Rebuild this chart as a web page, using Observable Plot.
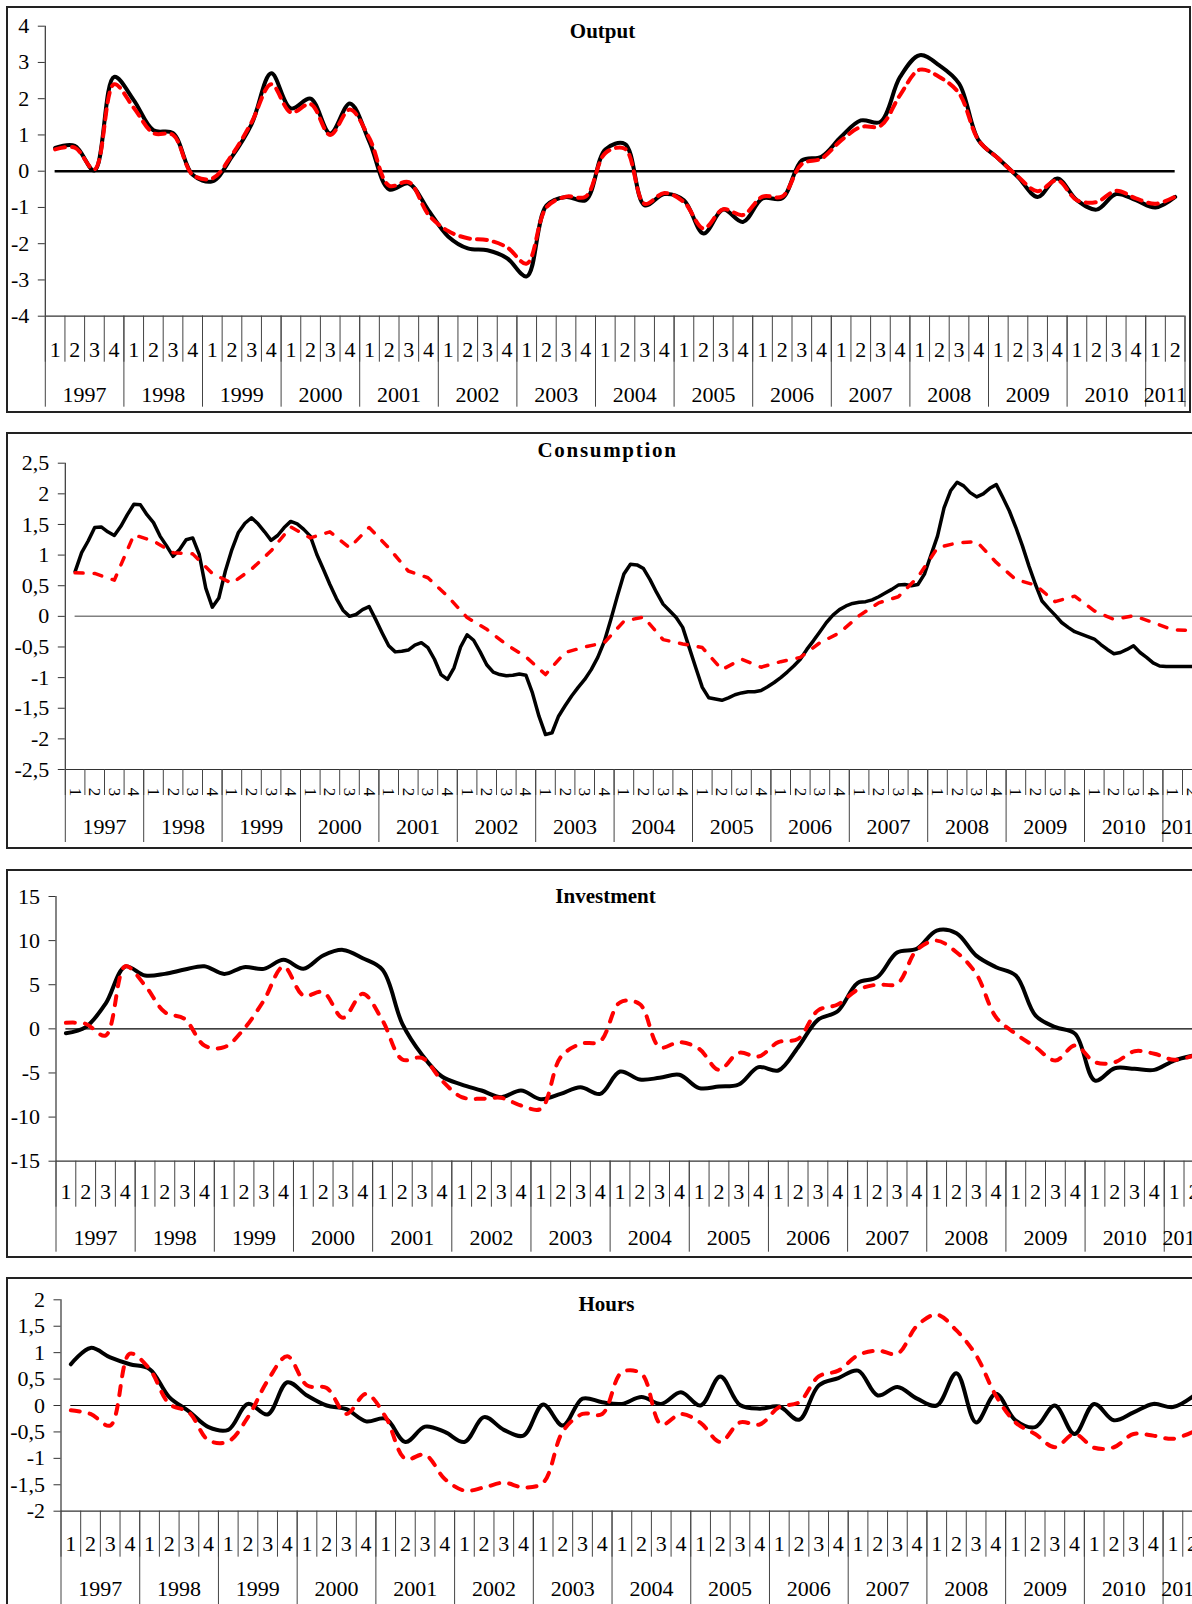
<!DOCTYPE html>
<html>
<head>
<meta charset="utf-8">
<script src="https://cdn.jsdelivr.net/npm/d3@7"></script>
<script src="https://cdn.jsdelivr.net/npm/@observablehq/plot@0.6"></script>
<style>
  html, body { margin: 0; padding: 0; background: #fff; }
  #page { position: relative; width: 1192px; height: 1604px; overflow: hidden; background: #fff; }
  .panel { position: absolute; left: 0; }
  .panel svg { max-width: none !important; display: block; }
  .box { position: absolute; border: 2px solid #222; box-sizing: border-box; pointer-events: none; }
</style>
</head>
<body>
<div id="page"></div>
<script>
// Quarterly axis: 1997Q1 .. 2011Q2
const years = [1997, 1998, 1999, 2000, 2001, 2002, 2003, 2004, 2005, 2006, 2007, 2008, 2009, 2010, 2011];
const quarterNames = ["1", "2", "3", "4"];
const quarterCount = 58;

// Output (quarterly)
const outputActual = [0.64, 0.70, 0.02, 2.6, 1.96, 1.13, 1.05, -0.1, -0.28, 0.4, 1.3, 2.7, 1.73, 2.0, 1.04, 1.87, 0.8, -0.5, -0.34, -1.08, -1.8, -2.13, -2.18, -2.4, -2.9, -0.95, -0.71, -0.8, 0.6, 0.75, -0.94, -0.63, -0.8, -1.72, -1.06, -1.4, -0.75, -0.75, 0.3, 0.4, 0.95, 1.4, 1.36, 2.6, 3.2, 2.92, 2.42, 0.85, 0.35, -0.16, -0.71, -0.2, -0.8, -1.06, -0.63, -0.8, -1.0, -0.71];
const outputModel = [0.6, 0.65, 0.05, 2.4, 1.75, 1.05, 1.0, -0.1, -0.2, 0.45, 1.35, 2.4, 1.62, 1.85, 1.0, 1.7, 0.9, -0.4, -0.3, -1.2, -1.65, -1.85, -1.9, -2.1, -2.55, -1.0, -0.7, -0.7, 0.5, 0.62, -0.9, -0.6, -0.85, -1.58, -1.05, -1.21, -0.7, -0.7, 0.2, 0.35, 0.85, 1.22, 1.25, 2.1, 2.8, 2.6, 2.15, 0.85, 0.35, -0.15, -0.55, -0.25, -0.8, -0.85, -0.54, -0.75, -0.9, -0.7];

// Consumption: actual is monthly (three points per quarter, first at mid-Q1 1997), model is quarterly
const consumptionActual = [
  0.73, 1.04, 1.23, 1.45, 1.46, 1.38, 1.32, 1.47, 1.66, 1.83,
  1.82, 1.66, 1.53, 1.31, 1.15, 0.98, 1.09, 1.25, 1.28, 1.01,
  0.46, 0.15, 0.30, 0.74, 1.09, 1.37, 1.52, 1.61, 1.51, 1.38,
  1.24, 1.32, 1.45, 1.55, 1.51, 1.42, 1.31, 1.01, 0.77, 0.52,
  0.29, 0.10, 0.00, 0.03, 0.11, 0.16, -0.05, -0.27, -0.48, -0.58,
  -0.57, -0.55, -0.47, -0.43, -0.51, -0.70, -0.95, -1.03, -0.84, -0.50,
  -0.30, -0.39, -0.58, -0.79, -0.91, -0.95, -0.97, -0.96, -0.94, -0.96,
  -1.25, -1.63, -1.93, -1.90, -1.63, -1.46, -1.30, -1.16, -1.03, -0.87,
  -0.67, -0.41, -0.05, 0.33, 0.69, 0.85, 0.84, 0.78, 0.60, 0.39,
  0.20, 0.09, -0.02, -0.18, -0.51, -0.84, -1.16, -1.33, -1.35, -1.37,
  -1.33, -1.28, -1.25, -1.23, -1.23, -1.21, -1.15, -1.08, -1.00, -0.91,
  -0.81, -0.70, -0.54, -0.40, -0.25, -0.10, 0.02, 0.11, 0.17, 0.21,
  0.23, 0.24, 0.27, 0.32, 0.38, 0.44, 0.51, 0.52, 0.50, 0.52,
  0.69, 1.00, 1.31, 1.77, 2.05, 2.19, 2.13, 2.02, 1.95, 2.00,
  2.09, 2.15, 1.94, 1.72, 1.45, 1.15, 0.82, 0.52, 0.25, 0.13,
  0.02, -0.10, -0.18, -0.25, -0.29, -0.33, -0.37, -0.46, -0.54, -0.61,
  -0.59, -0.54, -0.48, -0.59, -0.67, -0.76, -0.81, -0.82, -0.82, -0.82,
  -0.82, -0.82
];
const consumptionModel = [0.71, 0.70, 0.59, 1.33, 1.23, 1.04, 1.02, 0.70, 0.54, 0.77, 1.07, 1.46, 1.28, 1.38, 1.12, 1.45, 1.12, 0.74, 0.63, 0.33, -0.02, -0.21, -0.46, -0.66, -0.95, -0.59, -0.50, -0.43, -0.08, -0.01, -0.38, -0.45, -0.51, -0.87, -0.70, -0.83, -0.74, -0.67, -0.43, -0.27, 0.01, 0.22, 0.32, 0.64, 1.12, 1.20, 1.22, 0.88, 0.60, 0.51, 0.24, 0.33, 0.09, -0.05, 0.01, -0.10, -0.22, -0.23];

// Investment (quarterly)
const investmentActual = [-0.49, 0.2, 2.83, 7.06, 6.04, 6.23, 6.72, 7.10, 6.23, 6.99, 6.8, 7.82, 6.8, 8.31, 8.95, 8.0, 6.69, 0.57, -2.95, -5.4, -6.31, -6.99, -7.74, -6.99, -7.97, -7.37, -6.61, -7.37, -4.84, -5.74, -5.55, -5.21, -6.72, -6.54, -6.31, -4.34, -4.72, -2.08, 1.02, 2.0, 5.18, 5.86, 8.65, 9.07, 11.14, 10.84, 8.3, 6.99, 6.04, 1.51, 0.19, -0.57, -5.86, -4.46, -4.53, -4.65, -3.59, -3.02];
const investmentModel = [0.68, 0.57, -0.76, 7.10, 4.91, 1.89, 1.13, -1.89, -2.08, 0.0, 3.21, 7.06, 3.78, 4.16, 1.25, 3.97, 0.94, -3.48, -3.29, -5.86, -7.74, -7.93, -7.82, -8.69, -9.07, -3.21, -1.70, -1.4, 3.0, 2.8, -2.08, -1.51, -2.27, -4.65, -2.72, -3.14, -1.51, -1.13, 2.08, 2.76, 4.42, 5.02, 5.1, 8.95, 10.0, 8.69, 6.23, 1.32, -0.57, -2.08, -3.59, -1.89, -3.78, -3.78, -2.53, -2.83, -3.51, -3.02];

// Hours (quarterly)
const hoursActual = [0.78, 1.09, 0.91, 0.78, 0.69, 0.16, -0.11, -0.41, -0.46, 0.03, -0.17, 0.44, 0.19, 0.0, -0.07, -0.30, -0.25, -0.69, -0.40, -0.50, -0.69, -0.22, -0.46, -0.57, 0.02, -0.38, 0.13, 0.06, 0.03, 0.16, 0.03, 0.25, 0.0, 0.55, 0.01, -0.06, -0.02, -0.27, 0.38, 0.52, 0.66, 0.19, 0.35, 0.13, 0.0, 0.61, -0.32, 0.22, -0.28, -0.41, 0.0, -0.54, 0.03, -0.28, -0.13, 0.03, -0.03, 0.17];
const hoursModel = [-0.09, -0.16, -0.38, 0.98, 0.69, 0.03, -0.13, -0.66, -0.68, -0.22, 0.47, 0.93, 0.38, 0.33, -0.16, 0.22, -0.22, -1.01, -0.93, -1.39, -1.61, -1.55, -1.46, -1.55, -1.46, -0.49, -0.16, -0.16, 0.63, 0.60, -0.36, -0.16, -0.33, -0.69, -0.32, -0.36, -0.03, 0.06, 0.55, 0.66, 0.95, 1.04, 0.98, 1.51, 1.72, 1.42, 0.95, 0.19, -0.32, -0.54, -0.79, -0.54, -0.80, -0.79, -0.54, -0.57, -0.63, -0.50];

// Y-axis ticks per panel
const outputTicks = [-4, -3, -2, -1, 0, 1, 2, 3, 4];
const consumptionTicks = [-2.5, -2, -1.5, -1, -0.5, 0, 0.5, 1, 1.5, 2, 2.5];
const investmentTicks = [-15, -10, -5, 0, 5, 10, 15];
const hoursTicks = [-2, -1.5, -1, -0.5, 0, 0.5, 1, 1.5, 2];

// Category helpers derived from the year / quarter lists
const quarterCells = d3.range(quarterCount).map(i => ({pos: i + 0.5, label: quarterNames[i % 4]}));
const yearCells = years.map((y, j) => ({pos: 4 * j + Math.min(4, quarterCount - 4 * j) / 2, label: String(y)}));
const quarterBounds = d3.range(0, quarterCount + 1);
const yearBounds = [...d3.range(0, quarterCount, 4), quarterCount];

const commaFormat = d => String(d).replace(".", ",");
const serif = "'Liberation Serif', 'Times New Roman', serif";

const panels = [
  {
    title: "Output", actual: outputActual, model: outputModel, actualStep: 1,
    domain: [-4, 4], ticks: outputTicks,
    svgTop: 0, svgWidth: 1192, svgHeight: 412, axisLeft: 44.8, quarterWidth: 19.65, yTop: 25.7, yBottom: 315.7,
    quarterTick: 46, yearTick: 91, quarterDy: 33.3, yearDy: 79, rotateQuarters: false,
    titleX: 602, titleY: 30.7, box: [6, 6, 1185, 407],
    zeroStroke: "#000", zeroWidth: 2.5, zeroEnd: quarterCount - 0.5,
    curve: "catmull-rom", actualWidth: 4, modelWidth: 4, dash: "10,7"
  },
  {
    title: "Consumption", actual: consumptionActual, model: consumptionModel, actualStep: 1 / 3,
    domain: [-2.5, 2.5], ticks: consumptionTicks,
    svgTop: 420, svgWidth: 1215, svgHeight: 430, axisLeft: 64.8, quarterWidth: 19.6, yTop: 42.7, yBottom: 349,
    quarterTick: 26, yearTick: 73, quarterDy: 22.5, yearDy: 57.3, rotateQuarters: true,
    titleX: 607, titleY: 29.5, box: [6, 432, 1230, 417],
    zeroStroke: "#808080", zeroWidth: 1.5, zeroEnd: quarterCount,
    curve: "linear", actualWidth: 3.5, modelWidth: 3.5, dash: "8,11"
  },
  {
    title: "Investment", actual: investmentActual, model: investmentModel, actualStep: 1,
    domain: [-15, 15], ticks: investmentTicks,
    svgTop: 860, svgWidth: 1215, svgHeight: 400, axisLeft: 55.5, quarterWidth: 19.79, yTop: 36, yBottom: 300.7,
    quarterTick: 46, yearTick: 91, quarterDy: 30.6, yearDy: 76.3, rotateQuarters: false,
    titleX: 605, titleY: 36, box: [6, 869, 1230, 389],
    zeroStroke: "#000", zeroWidth: 1.2, zeroEnd: quarterCount,
    curve: "catmull-rom", actualWidth: 4, modelWidth: 4, dash: "9,10"
  },
  {
    title: "Hours", actual: hoursActual, model: hoursModel, actualStep: 1,
    domain: [-2, 2], ticks: hoursTicks,
    svgTop: 1270, svgWidth: 1215, svgHeight: 334, axisLeft: 60.5, quarterWidth: 19.68, yTop: 29.3, yBottom: 240.7,
    quarterTick: 46, yearTick: 95, quarterDy: 33, yearDy: 77.3, rotateQuarters: false,
    titleX: 606, titleY: 33.7, box: [6, 1277, 1230, 400],
    zeroStroke: "#000", zeroWidth: 1.2, zeroEnd: quarterCount,
    curve: "catmull-rom", actualWidth: 4, modelWidth: 4, dash: "9,10"
  }
];

const page = document.getElementById("page");

for (const p of panels) {
  const plotRight = p.axisLeft + quarterCount * p.quarterWidth;
  const chart = Plot.plot({
    width: p.svgWidth,
    height: p.svgHeight,
    marginLeft: p.axisLeft,
    marginRight: p.svgWidth - plotRight,
    marginTop: p.yTop,
    marginBottom: p.svgHeight - p.yBottom,
    x: {domain: [0, quarterCount]},
    y: {domain: p.domain},
    style: {fontFamily: serif, fontSize: "22px", color: "#000", background: "transparent", overflow: "visible"},
    marks: [
      // axis lines
      Plot.ruleX([0], {stroke: "#333", strokeWidth: 1.2}),
      Plot.ruleY([p.domain[0]], {stroke: "#333", strokeWidth: 1.2}),
      Plot.axisY(p.ticks, {tickSize: 7, tickPadding: 9, tickFormat: commaFormat, label: null, fontSize: 22, stroke: "#333"}),
      // category separators: quarters (short) and years (long)
      Plot.axisX(quarterBounds, {anchor: "bottom", tickSize: p.quarterTick, fill: "none", tickFormat: () => "", label: null, stroke: "#444"}),
      Plot.axisX(yearBounds, {anchor: "bottom", tickSize: p.yearTick, fill: "none", tickFormat: () => "", label: null, stroke: "#444"}),
      // quarter numbers and year labels
      Plot.text(quarterCells, {
        x: "pos", text: "label", frameAnchor: "bottom", lineAnchor: "middle", dy: p.quarterDy,
        rotate: p.rotateQuarters ? 90 : 0, fontSize: p.rotateQuarters ? 17 : 22, fill: "#000"
      }),
      Plot.text(yearCells, {x: "pos", text: "label", frameAnchor: "bottom", lineAnchor: "middle", dy: p.yearDy, fontSize: 22, fill: "#000"}),
      // zero reference
      Plot.ruleY([0], {x1: 0.5, x2: p.zeroEnd, stroke: p.zeroStroke, strokeWidth: p.zeroWidth}),
      // actual series (solid black) and model series (dashed red)
      Plot.line(p.actual, {
        x: (d, i) => 0.5 + i * p.actualStep, y: d => d,
        stroke: "#000", strokeWidth: p.actualWidth, curve: p.curve, strokeLinejoin: "round"
      }),
      Plot.line(p.model, {
        x: (d, i) => 0.5 + i, y: d => d,
        stroke: "#ff0000", strokeWidth: p.modelWidth, strokeDasharray: p.dash, curve: p.curve
      }),
      // panel title
      Plot.text([p.title], {
        text: d => d, frameAnchor: "top-left", lineAnchor: "middle", dx: p.titleX - p.axisLeft, dy: p.titleY - p.yTop,
        fontWeight: "bold", fontSize: 21, textAnchor: "middle", fill: "#000"
      })
    ]
  });
  chart.style.maxWidth = "none";
  chart.style.width = p.svgWidth + "px";
  chart.style.height = p.svgHeight + "px";
  if (p.title === "Consumption") {
    d3.select(chart).selectAll("text").filter(function () { return this.textContent === "Consumption"; })
      .attr("letter-spacing", "1.7px");
  }
  const holder = document.createElement("div");
  holder.className = "panel";
  holder.style.top = p.svgTop + "px";
  holder.style.width = p.svgWidth + "px";
  holder.appendChild(chart);
  page.appendChild(holder);

  const box = document.createElement("div");
  box.className = "box";
  const [bx, by, bw, bh] = p.box;
  Object.assign(box.style, {left: bx + "px", top: by + "px", width: bw + "px", height: bh + "px"});
  page.appendChild(box);
}
</script>
</body>
</html>
